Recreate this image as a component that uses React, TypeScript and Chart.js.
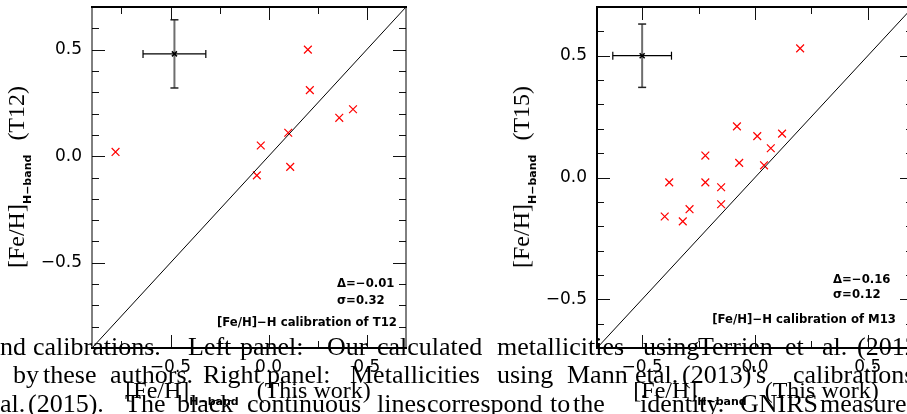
import React, { useEffect, useRef } from "react";
import { Chart, registerables } from "chart.js";
Chart.register(...registerables);

// ---------- Left panel: T12 calibration ----------
const leftThisWork = [-0.78, -0.04, -0.06, 0.10, 0.11, 0.20, 0.21, 0.36, 0.43];
const leftT12 = [0.02, 0.05, -0.09, 0.11, -0.05, 0.50, 0.31, 0.18, 0.22];
const leftRange = [-0.9, 0.7];
const leftErrCenter = [-0.48, 0.48];
const leftErrSize = [0.16, 0.16];
const leftStats = ["Δ=−0.01", "σ=0.32", "[Fe/H]−H calibration of T12"];

// ---------- Right panel: M13 calibration ----------
const rightThisWork = [0.20, -0.08, 0.01, 0.12, 0.07, 0.04, -0.07, -0.22, -0.22, -0.15, -0.15, -0.38, -0.40, -0.32, -0.29];
const rightT15 = [0.53, 0.21, 0.17, 0.18, 0.12, 0.05, 0.06, 0.09, -0.02, -0.04, -0.11, -0.02, -0.16, -0.18, -0.13];
const rightRange = [-0.7, 0.7];
const rightErrCenter = [-0.50, 0.50];
const rightErrSize = [0.13, 0.13];
const rightStats = ["Δ=−0.16", "σ=0.12", "[Fe/H]−H calibration of M13"];

// ---------- Axes ----------
const majorTicks = [-0.5, 0, 0.5];
const xMinorStep = 0.25;
const yMinorStep = 0.1;

// ---------- Caption text (words with their left positions) ----------
const captionLine1: [string, number][] = [
  ["nd", 0], ["calibrations.", 33], ["Left", 188], ["panel:", 240], ["Our", 327],
  ["calculated", 377], ["metallicities", 497], ["using", 643], ["Terrien", 698],
  ["et", 785], ["al.", 822], ["(2012)", 857],
];
const captionLine2: [string, number][] = [
  ["by", 13], ["these", 43], ["authors.", 110], ["Right", 203], ["panel:", 267],
  ["Metallicities", 350], ["using", 497], ["Mann", 567], ["et", 635], ["al.", 653],
  ["(2013)'s", 682], ["calibrations", 793],
];
const captionLine3: [string, number][] = [
  ["al.", 0], ["(2015).", 28], ["The", 125], ["black", 177], ["continuous", 247],
  ["lines", 377], ["correspond", 427], ["to", 550], ["the", 573], ["identity.", 640],
  ["GNIRS", 740], ["measurements", 820],
];
const captionBaselines = [356, 384, 413];

const fmt = (v: number) => (v < 0 ? "−" : "") + Math.abs(v).toFixed(1);

function line(ctx: CanvasRenderingContext2D, x1: number, y1: number, x2: number, y2: number) {
  ctx.beginPath();
  ctx.moveTo(x1, y1);
  ctx.lineTo(x2, y2);
  ctx.stroke();
}

const framePlugin = {
  id: "frame",
  afterDraw(chart: any, _a: any, o: any) {
    const { ctx, chartArea: a, scales } = chart;
    const x = scales.x, y = scales.y;
    ctx.save();
    ctx.strokeStyle = "#111";
    ctx.lineWidth = 1;
    const major = (v: number) => Math.abs(v / 0.5 - Math.round(v / 0.5)) < 1e-6;
    const iStart = (min: number, st: number) => Math.ceil(min / st - 1e-6);
    const iEnd = (max: number, st: number) => Math.floor(max / st + 1e-6);
    for (let i = iStart(x.min, xMinorStep); i <= iEnd(x.max, xMinorStep); i++) {
      const v = i * xMinorStep;
      const len = major(v) ? 13 : 7;
      const px = Math.round(x.getPixelForValue(v)) + 0.5;
      line(ctx, px, a.top, px, a.top + len);
      line(ctx, px, a.bottom, px, a.bottom - len);
    }
    for (let i = iStart(y.min, yMinorStep); i <= iEnd(y.max, yMinorStep); i++) {
      const v = i * yMinorStep;
      const len = major(v) ? 13 : 7;
      const py = Math.round(y.getPixelForValue(v)) + 0.5;
      line(ctx, a.left, py, a.left + len, py);
      line(ctx, a.right, py, a.right - len, py);
    }
    ctx.strokeStyle = "#000";
    ctx.lineWidth = o.hw;
    line(ctx, a.left - 1, a.top, a.right + 1, a.top);
    line(ctx, a.left - 1, a.bottom, a.right + 1, a.bottom);
    ctx.lineWidth = o.vw;
    line(ctx, a.left, a.top, a.left, a.bottom);
    line(ctx, a.right, a.top, a.right, a.bottom);
    ctx.restore();
  },
};

const errbarPlugin = {
  id: "errbar",
  afterDatasetsDraw(chart: any, _a: any, o: any) {
    const { ctx, scales } = chart;
    const x = scales.x, y = scales.y;
    const [ex, ey] = o.center;
    const [dx, dy] = o.size;
    const cx = x.getPixelForValue(ex), cy = y.getPixelForValue(ey);
    const l = x.getPixelForValue(ex - dx), r = x.getPixelForValue(ex + dx);
    const t = y.getPixelForValue(ey + dy), b = y.getPixelForValue(ey - dy);
    ctx.save();
    ctx.strokeStyle = "#6e6e6e";
    ctx.lineWidth = 2;
    line(ctx, cx, t, cx, b);
    ctx.strokeStyle = "#222";
    ctx.lineWidth = 1.5;
    line(ctx, cx - 4, t, cx + 4, t);
    line(ctx, cx - 4, b, cx + 4, b);
    ctx.strokeStyle = "#000";
    ctx.lineWidth = 1.2;
    line(ctx, l, cy, r, cy);
    line(ctx, l, cy - 4, l, cy + 4);
    line(ctx, r, cy - 4, r, cy + 4);
    ctx.lineWidth = 1.5;
    line(ctx, cx - 2.5, cy - 2.5, cx + 2.5, cy + 2.5);
    line(ctx, cx - 2.5, cy + 2.5, cx + 2.5, cy - 2.5);
    ctx.restore();
  },
};

type PanelProps = {
  left: number;
  width: number;
  xs: number[];
  ys: number[];
  range: number[];
  errCenter: number[];
  errSize: number[];
  vw: number;
};

function Panel({ left, width, xs, ys, range, errCenter, errSize, vw }: PanelProps) {
  const ref = useRef<HTMLCanvasElement>(null);
  useEffect(() => {
    const [min, max] = range;
    const tickFont = { family: '"DejaVu Sans"', size: 17 };
    const chart = new Chart(ref.current as HTMLCanvasElement, {
      type: "scatter",
      data: {
        datasets: [
          {
            type: "line",
            data: [{ x: min, y: min }, { x: max, y: max }],
            borderColor: "#000",
            borderWidth: 1,
            pointRadius: 0,
            fill: false,
          } as any,
          {
            type: "scatter",
            data: xs.map((x, i) => ({ x, y: ys[i] })),
            pointStyle: "crossRot",
            pointRadius: 5.5,
            borderColor: "#ff0000",
            borderWidth: 1.2,
            backgroundColor: "rgba(0,0,0,0)",
          } as any,
        ],
      },
      options: {
        responsive: false,
        animation: false,
        devicePixelRatio: 1,
        layout: { padding: { top: 7, right: 24, left: 0, bottom: 0 } },
        plugins: {
          legend: { display: false },
          tooltip: { enabled: false },
          frame: { hw: 2, vw },
          errbar: { center: errCenter, size: errSize },
        } as any,
        scales: {
          x: {
            type: "linear",
            min,
            max,
            grid: { display: false, drawTicks: false },
            border: { display: false },
            ticks: { color: "#000", font: tickFont, padding: 9, maxRotation: 0, callback: (v: any) => fmt(Number(v)) },
            afterBuildTicks: (s: any) => { s.ticks = majorTicks.map((v) => ({ value: v })); },
            afterFit: (s: any) => { s.height = 66; s.paddingLeft = 0; s.paddingRight = 0; },
          },
          y: {
            type: "linear",
            min,
            max,
            grid: { display: false, drawTicks: false },
            border: { display: false },
            ticks: { color: "#000", font: tickFont, padding: 10, callback: (v: any) => fmt(Number(v)) },
            afterBuildTicks: (s: any) => { s.ticks = majorTicks.map((v) => ({ value: v })); },
            afterFit: (s: any) => { s.width = 92; s.paddingTop = 0; s.paddingBottom = 0; },
          },
        },
      } as any,
      plugins: [framePlugin, errbarPlugin],
    });
    return () => chart.destroy();
  }, []);
  return (
    <canvas
      ref={ref}
      width={width}
      height={414}
      style={{ position: "absolute", left, top: 0, width, height: 414 }}
    />
  );
}

const serif = '"Liberation Serif", serif';
const subFont = '"DejaVu Sans", sans-serif';

function Sub({ text }: { text: string }) {
  return (
    <span style={{ fontFamily: subFont, fontWeight: "bold", fontSize: 11, position: "relative", top: 7 }}>{text}</span>
  );
}

function YTitle({ cx, label }: { cx: number; label: string }) {
  return (
    <div
      style={{
        position: "absolute", left: cx, top: 177, transform: "translate(-50%,-50%) rotate(-90deg)",
        whiteSpace: "nowrap", fontFamily: serif, fontSize: 24, lineHeight: 1, color: "#000",
      }}
    >
      [Fe/H]<Sub text="H−band" /><span style={{ marginLeft: 14 }}>{label}</span>
    </div>
  );
}

function XTitle({ cx }: { cx: number }) {
  return (
    <div
      style={{
        position: "absolute", left: cx, top: 390, transform: "translate(-50%,-50%)",
        whiteSpace: "nowrap", fontFamily: serif, fontSize: 24, lineHeight: 1, color: "#000",
      }}
    >
      [Fe/H]<Sub text="H−band" /><span style={{ marginLeft: 18 }}>(This work)</span>
    </div>
  );
}

const annFont: React.CSSProperties = {
  position: "absolute", fontFamily: subFont, fontWeight: "bold", fontSize: 11.7, lineHeight: 1,
  whiteSpace: "nowrap", color: "#000",
};

function Stats({ stats, sx, sy1, sy2, cr, cy }: { stats: string[]; sx: number; sy1: number; sy2: number; cr: number; cy: number }) {
  return (
    <>
      <div style={{ ...annFont, left: sx, top: sy1, transform: "translateY(-50%)" }}>{stats[0]}</div>
      <div style={{ ...annFont, left: sx, top: sy2, transform: "translateY(-50%)" }}>{stats[1]}</div>
      <div style={{ ...annFont, left: cr, top: cy, transform: "translate(-100%,-50%)" }}>{stats[2]}</div>
    </>
  );
}

function CaptionLine({ words, baseline }: { words: [string, number][]; baseline: number }) {
  return (
    <>
      {words.map(([w, x], i) => (
        <span
          key={i}
          style={{
            position: "absolute", left: x, top: baseline - 22, fontFamily: serif, fontSize: 26,
            lineHeight: "26px", whiteSpace: "nowrap", color: "#000",
          }}
        >
          {w}
        </span>
      ))}
    </>
  );
}

export default function App() {
  return (
    <div
      style={{
        position: "fixed", left: 0, top: 0, width: 907, height: 414, overflow: "hidden", background: "#fff",
      }}
    >
      <Panel left={0} width={430} xs={leftThisWork} ys={leftT12} range={leftRange}
        errCenter={leftErrCenter} errSize={leftErrSize} vw={1} />
      <Panel left={505} width={432} xs={rightThisWork} ys={rightT15} range={rightRange}
        errCenter={rightErrCenter} errSize={rightErrSize} vw={2} />
      <YTitle cx={16} label="(T12)" />
      <YTitle cx={521} label="(T15)" />
      <XTitle cx={248} />
      <XTitle cx={756} />
      <Stats stats={leftStats} sx={337} sy1={284} sy2={301} cr={397} cy={323} />
      <Stats stats={rightStats} sx={833} sy1={280} sy2={295} cr={896} cy={320} />
      <CaptionLine words={captionLine1} baseline={captionBaselines[0]} />
      <CaptionLine words={captionLine2} baseline={captionBaselines[1]} />
      <CaptionLine words={captionLine3} baseline={captionBaselines[2]} />
    </div>
  );
}
